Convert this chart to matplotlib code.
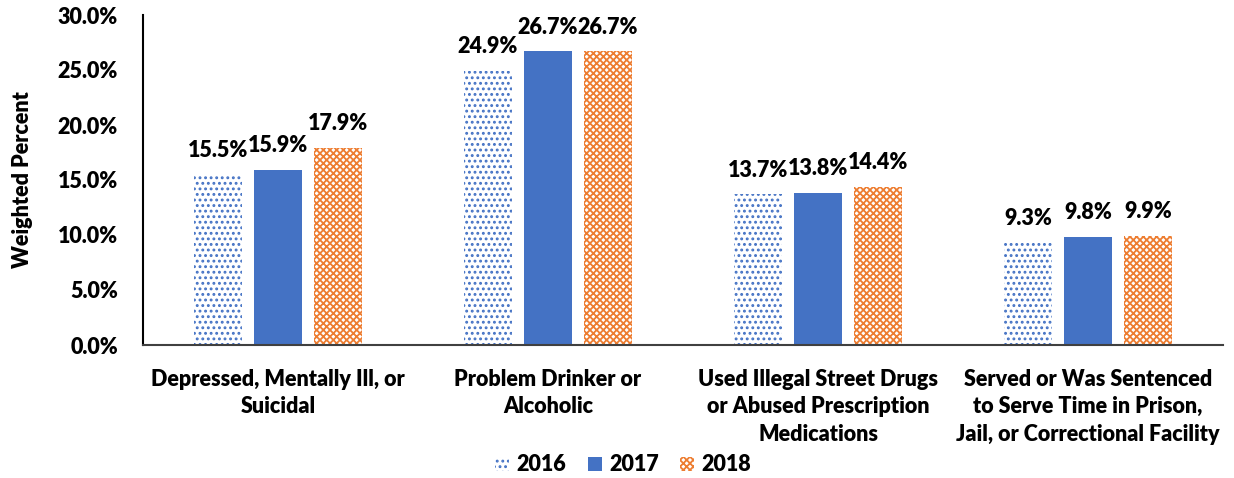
import matplotlib
matplotlib.use("Agg")
import matplotlib.pyplot as plt
import numpy as np

plt.rcParams['font.family'] = ['Lato', 'DejaVu Sans']
plt.rcParams['font.weight'] = 'heavy'
plt.rcParams['hatch.linewidth'] = 1.3

categories = ["Depressed, Mentally Ill, or\nSuicidal",
              "Problem Drinker or\nAlcoholic",
              "Used Illegal Street Drugs\nor Abused Prescription\nMedications",
              "Served or Was Sentenced\nto Serve Time in Prison,\nJail, or Correctional Facility"]
years = ["2016", "2017", "2018"]
v2016 = [15.5, 24.9, 13.7, 9.3]
v2017 = [15.9, 26.7, 13.8, 9.8]
v2018 = [17.9, 26.7, 14.4, 9.9]
yticks = [0, 5, 10, 15, 20, 25, 30]

blue = "#4472C4"
orange = "#ED7D31"

fig = plt.figure(figsize=(12.34, 4.78), dpi=100)
ax = fig.add_axes([143/1234, 1-345/478, (1223-143)/1234, (345-15)/478])

x = np.arange(len(categories))
w = 0.178
step = 0.222
series = [v2016, v2017, v2018]
styles = [
    dict(facecolor="white", edgecolor=blue, hatch="...", linewidth=0),
    dict(facecolor=blue, edgecolor=blue, linewidth=0),
    dict(facecolor="white", edgecolor=orange, hatch="xxxxx", linewidth=0),
]
for i, (vals, st, yr) in enumerate(zip(series, styles, years)):
    bars = ax.bar(x + (i-1)*step, vals, w, label=yr, **st)
    for b, v in zip(bars, vals):
        ax.text(b.get_x() + b.get_width()/2, v + 1.25, f"{v:.1f}%",
                ha="center", va="bottom", fontsize=15.5, fontweight="heavy")

ax.set_xlim(-0.5, len(categories)-0.5)
ax.set_ylim(0, 30)
ax.set_yticks(yticks)
ax.set_yticklabels([f"{t:.1f}%" for t in yticks], fontsize=15.5, fontweight="heavy")
ax.set_xticks(x)
ax.set_xticklabels(categories, fontsize=15.5, fontweight="heavy", linespacing=1.38, va="top")
ax.tick_params(axis='x', length=0, pad=17)
ax.tick_params(axis='y', length=0, pad=18)
ax.set_ylabel("Weighted Percent", fontsize=15.5, fontweight="heavy", labelpad=18)

for s in ["top", "right"]:
    ax.spines[s].set_visible(False)
ax.spines["left"].set_color("black")
ax.spines["left"].set_linewidth(1.5)
ax.spines["bottom"].set_color("#404040")
ax.spines["bottom"].set_linewidth(1.5)

leg = fig.legend(loc="lower center", bbox_to_anchor=(0.505, -0.035), ncol=3, frameon=False,
                 handlelength=0.65, handleheight=0.65, columnspacing=1.0,
                 handletextpad=0.35, prop={'weight': 'heavy', 'size': 15.5})

fig.savefig("out.png", dpi=100)
